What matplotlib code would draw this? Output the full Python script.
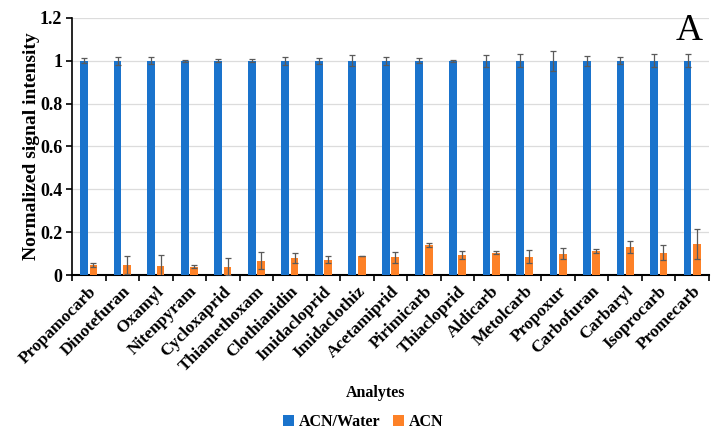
import numpy as np
import matplotlib
matplotlib.use("Agg")
import matplotlib.pyplot as plt
import matplotlib.transforms as mtransforms
from matplotlib.ticker import FixedLocator, FuncFormatter

analytes = ["Propamocarb", "Dinotefuran", "Oxamyl", "Nitenpyram", "Cycloxaprid",
            "Thiamethoxam", "Clothianidin", "Imidacloprid", "Imidaclothiz", "Acetamiprid",
            "Pirimicarb", "Thiacloprid", "Aldicarb", "Metolcarb", "Propoxur",
            "Carbofuran", "Carbaryl", "Isoprocarb", "Promecarb"]

water = [1, 1, 1, 1, 1, 1, 1, 1, 1, 1, 1, 1, 1, 1, 1, 1, 1, 1, 1]
water_err = [0.012, 0.019, 0.017, 0.006, 0.007, 0.007, 0.020, 0.014, 0.025, 0.020,
             0.012, 0.006, 0.028, 0.031, 0.047, 0.023, 0.017, 0.031, 0.031]

acn = [0.048, 0.047, 0.044, 0.039, 0.039, 0.066, 0.080, 0.072, 0.089, 0.083,
       0.139, 0.094, 0.105, 0.085, 0.100, 0.111, 0.131, 0.105, 0.144]
acn_err = [0.010, 0.042, 0.050, 0.008, 0.039, 0.040, 0.022, 0.017, 0.002, 0.025,
           0.009, 0.019, 0.006, 0.031, 0.027, 0.009, 0.027, 0.034, 0.069]

blue = "#1a73cc"
orange = "#fd8127"
serif = "Liberation Serif"

fig = plt.figure(figsize=(7.23, 4.34), dpi=100)
ax = fig.add_axes([72 / 723, 1 - 275 / 434, (709 - 72) / 723, (275 - 18) / 434])

x = np.arange(len(analytes))
w = 0.23
err_kw = dict(ecolor="#5a5a5a", elinewidth=0.9, capsize=2.5, capthick=0.9)
ax.bar(x - 0.14, water, w, yerr=water_err, color=blue, label="ACN/Water",
       error_kw=err_kw, zorder=3)
ax.bar(x + 0.14, acn, w, yerr=acn_err, color=orange, label="ACN",
       error_kw=err_kw, zorder=3)

ax.set_xlim(-0.5, len(analytes) - 0.5)
ax.set_ylim(0, 1.2)
ax.set_yticks([0, 0.2, 0.4, 0.6, 0.8, 1.0, 1.2])
ax.yaxis.set_major_formatter(FuncFormatter(lambda v, p: f"{v:g}"))
ax.yaxis.grid(True, color="#dcdcdc", linewidth=0.9, zorder=0)
ax.set_axisbelow(True)

# category labels at centres, tick marks on the boundaries
ax.set_xticks(x)
ax.set_xticklabels(analytes, rotation=45, ha="right", rotation_mode="anchor",
                   fontfamily=serif, fontweight="bold", fontsize=12.5)
shift = mtransforms.ScaledTranslation(6 / 100, -2 / 100, fig.dpi_scale_trans)
for lab in ax.get_xticklabels():
    lab.set_transform(lab.get_transform() + shift)
ax.tick_params(axis="x", which="major", length=0, pad=6)
ax.xaxis.set_minor_locator(FixedLocator(np.arange(len(analytes) + 1) - 0.5))
ax.tick_params(axis="x", which="minor", length=4, width=1.2, direction="out")
ax.tick_params(axis="y", length=4, width=1.2, direction="out", pad=3)
for lab in ax.get_yticklabels():
    lab.set_fontfamily(serif)
    lab.set_fontweight("bold")
    lab.set_fontsize(13)

for s in ["top", "right"]:
    ax.spines[s].set_visible(False)
ax.spines["left"].set_linewidth(1.2)
ax.spines["bottom"].set_linewidth(1.5)

ax.set_ylabel("Normalized signal intensity", fontfamily=serif, fontweight="bold",
              fontsize=14, labelpad=0)
fig.text(376 / 723, 1 - 393 / 434, "Analytes", ha="center", va="center",
         fontfamily=serif, fontweight="bold", fontsize=11.5)
fig.text(689 / 723, 1 - 31 / 434, "A", ha="center", va="center",
         fontfamily=serif, fontsize=27)

fig.legend(loc="center", bbox_to_anchor=(363 / 723, 1 - 422 / 434),
           ncol=2, frameon=False, handlelength=0.7, handleheight=0.7,
           handletextpad=0.3, columnspacing=0.8,
           prop=dict(family=serif, weight="bold", size=11.5))

fig.savefig("out.png", dpi=100)
